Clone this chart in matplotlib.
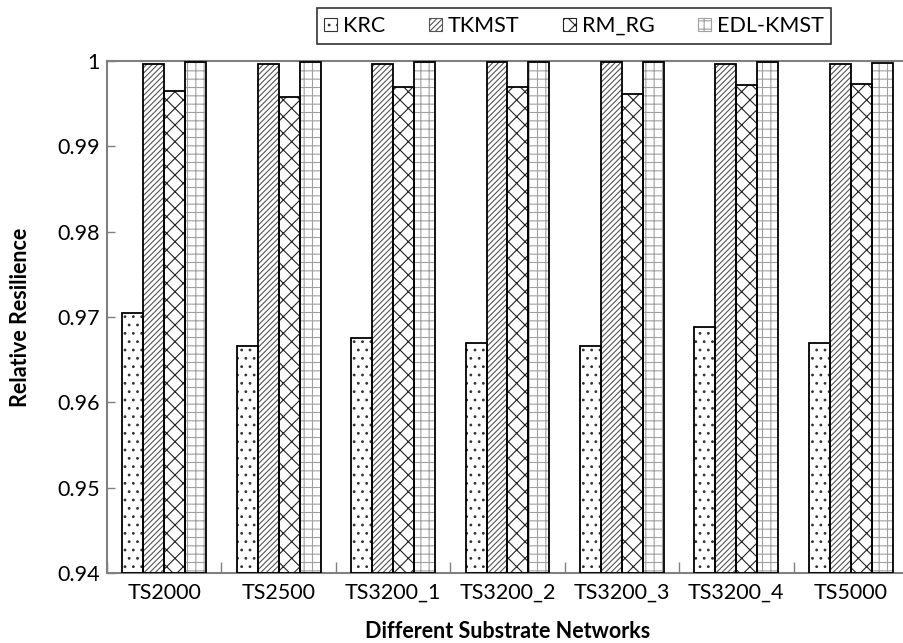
import numpy as np
import matplotlib
matplotlib.use("Agg")
import matplotlib.pyplot as plt
from matplotlib.patches import Patch

plt.rcParams["font.family"] = ["Lato", "DejaVu Sans"]
plt.rcParams["hatch.linewidth"] = 0.8

networks = ["TS2000", "TS2500", "TS3200_1", "TS3200_2", "TS3200_3", "TS3200_4", "TS5000"]
methods = ["KRC", "TKMST", "RM_RG", "EDL-KMST"]

krc = [0.9705, 0.9666, 0.9675, 0.9669, 0.9666, 0.9688, 0.9670]
tkmst = [0.9996, 0.9997, 0.9996, 0.9999, 0.9999, 0.9997, 0.9997]
rm_rg = [0.9965, 0.9958, 0.9969, 0.9970, 0.9961, 0.9972, 0.9973]
edl_kmst = [0.9999, 0.9999, 0.9999, 0.9999, 0.9999, 0.9999, 0.9998]

series = [krc, tkmst, rm_rg, edl_kmst]
hatches = ["..", "//////", "xx", "++"]
hatch_colors = ["#333333", "#555555", "#222222", "#a0a0a0"]

fs = 15.5

fig = plt.figure(figsize=(9.04, 6.43), dpi=100)
ax = fig.add_axes([107 / 904, 70 / 643, 801 / 904, 512 / 643])

x = np.arange(len(networks))
width = 0.183
offsets = (np.arange(len(methods)) - 1.5) * width
base = 0.94

for vals, off, h, hc in zip(series, offsets, hatches, hatch_colors):
    heights = np.array(vals) - base
    # hatch layer, then a plain outline on top
    ax.bar(x + off, heights, width, bottom=base, color="white",
           edgecolor=hc, hatch=h, linewidth=0, zorder=2)
    ax.bar(x + off, heights, width, bottom=base, fill=False,
           edgecolor="black", linewidth=1.3, zorder=3)

ax.set_ylim(0.94, 1.0)
ax.set_xlim(-0.5, len(networks) - 0.5)
ax.set_yticks([0.94, 0.95, 0.96, 0.97, 0.98, 0.99, 1.0])
ax.set_yticklabels(["0.94", "0.95", "0.96", "0.97", "0.98", "0.99", "1"])

# group separators as ticks, names centred under each group
ax.set_xticks(np.arange(len(networks) + 1) - 0.5)
ax.set_xticklabels([])
ax.set_xticks(x, minor=True)
ax.set_xticklabels(networks, minor=True)
ax.tick_params(axis="x", which="major", direction="in", length=8, color="#808080", width=1)
ax.tick_params(axis="x", which="minor", length=0, pad=7, labelsize=fs)
ax.tick_params(axis="y", direction="in", length=6, color="#808080", width=1, pad=5, labelsize=fs)

for side in ["left", "bottom", "top"]:
    ax.spines[side].set_color("#808080")
    ax.spines[side].set_linewidth(1.5)
ax.spines["right"].set_visible(False)

ax.set_ylabel("Relative Resilience", fontsize=fs, fontweight="bold", labelpad=19)
ax.set_xlabel("Different Substrate Networks", fontsize=fs, fontweight="bold", labelpad=13)

handles = [Patch(facecolor="white", edgecolor=hc, hatch=h, linewidth=0.8)
           for h, hc in zip(hatches, hatch_colors)]
leg = fig.legend(handles, methods, loc="center", bbox_to_anchor=(574 / 904, 1 - 26 / 643),
                 ncol=4, frameon=True, fancybox=False, edgecolor="black", fontsize=fs,
                 handlelength=0.6, handleheight=0.6, handletextpad=0.3, columnspacing=2.0,
                 borderpad=0.35)
leg.get_frame().set_linewidth(1.2)

fig.savefig("out.png", dpi=100)
